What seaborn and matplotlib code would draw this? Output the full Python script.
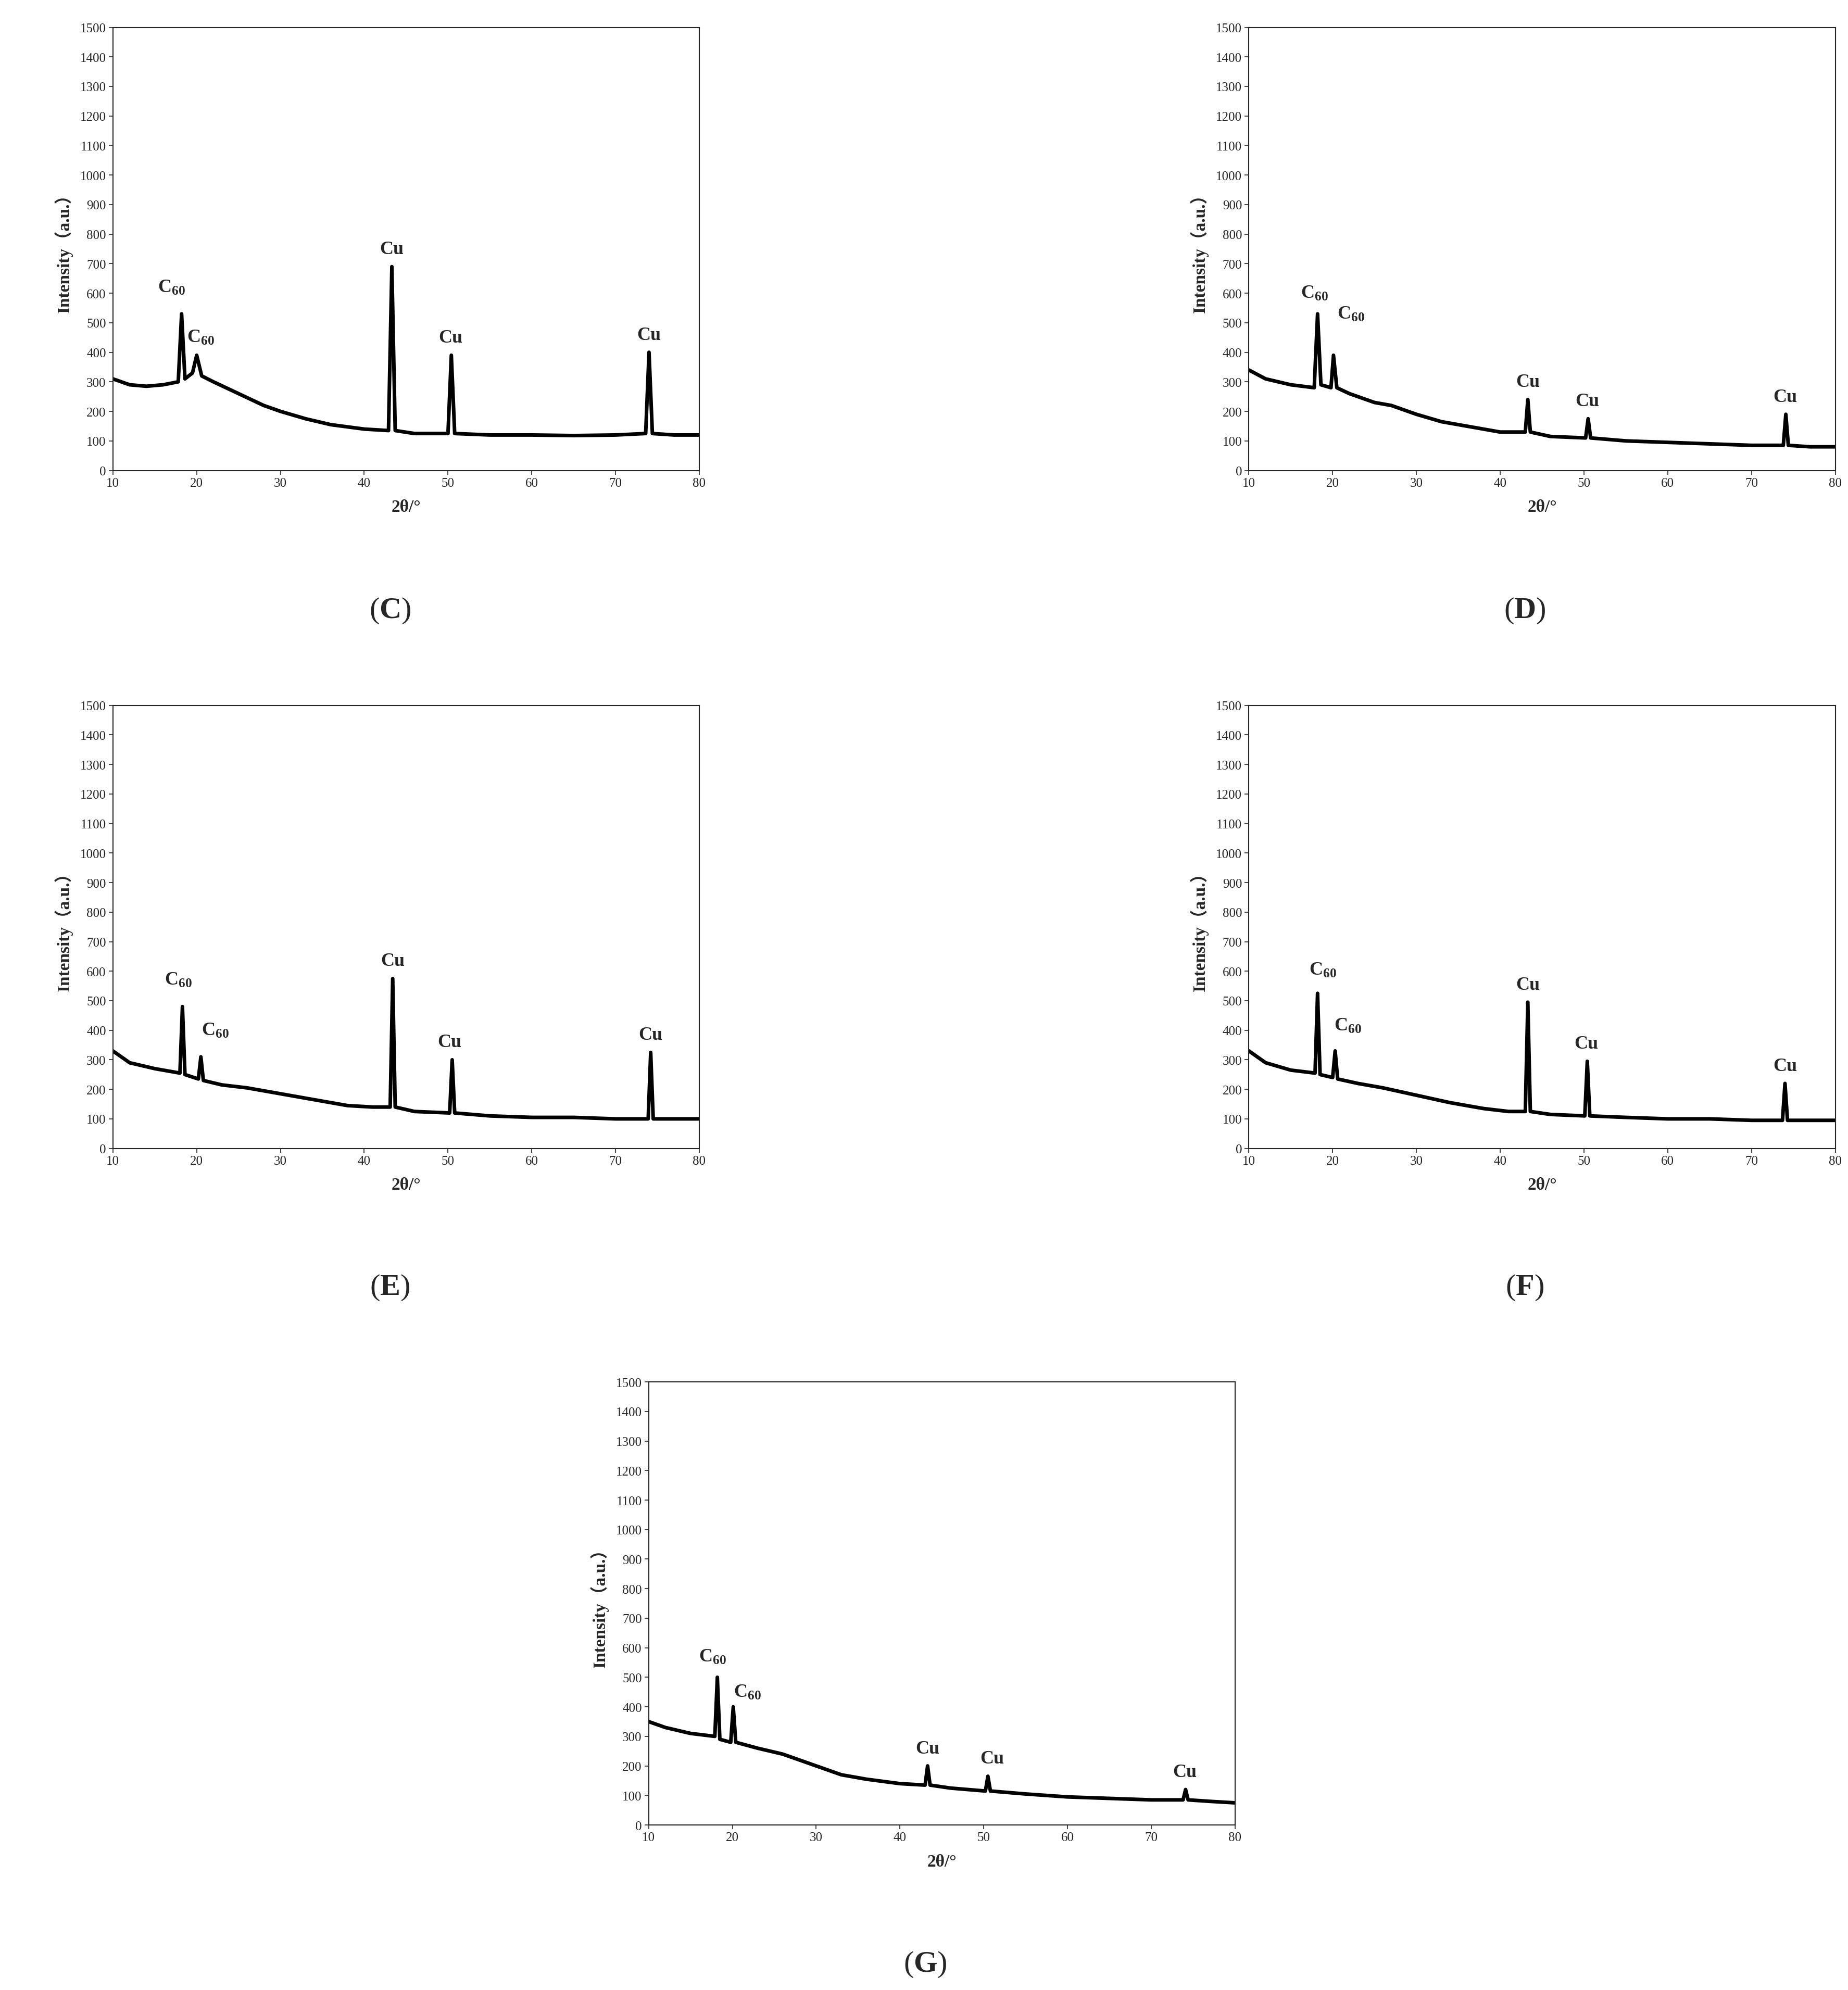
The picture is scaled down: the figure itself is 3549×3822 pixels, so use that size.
import matplotlib
matplotlib.use("Agg")
import matplotlib.pyplot as plt
import seaborn as sns

sns.set_style("ticks")
plt.rcParams["font.family"] = ["Liberation Serif", "DejaVu Serif"]
plt.rcParams["mathtext.fontset"] = "custom"
plt.rcParams["mathtext.rm"] = "Liberation Serif"
plt.rcParams["mathtext.bf"] = "Liberation Serif:bold"
plt.rcParams["mathtext.default"] = "regular"

# -----------------------------
# Spectra (2theta, intensity)
# -----------------------------
c_x = [10, 12, 14, 16, 17.8, 18.2, 18.6, 19.5, 20.0, 20.6, 22, 25, 28, 30, 33, 36, 40, 42.9, 43.3, 43.7, 46, 50.0, 50.4, 50.8, 55, 60, 65, 70, 73.6, 74.0, 74.4, 77, 80]
c_y = [310, 290, 285, 290, 300, 530, 310, 330, 390, 320, 300, 260, 220, 200, 175, 155, 140, 135, 690, 135, 125, 125, 390, 125, 120, 120, 118, 120, 125, 400, 125, 120, 120]

d_x = [10, 12, 15, 17.8, 18.2, 18.6, 19.8, 20.1, 20.5, 22, 25, 27, 30, 33, 36, 40, 43.0, 43.3, 43.6, 46, 50.2, 50.5, 50.8, 55, 60, 65, 70, 73.8, 74.1, 74.4, 77, 80]
d_y = [340, 310, 290, 280, 530, 290, 280, 390, 280, 260, 230, 220, 190, 165, 150, 130, 130, 240, 130, 115, 110, 175, 110, 100, 95, 90, 85, 85, 190, 85, 80, 80]

e_x = [10, 12, 15, 18.0, 18.3, 18.6, 20.2, 20.5, 20.8, 23, 26, 30, 34, 38, 41, 43.1, 43.4, 43.7, 46, 50.2, 50.5, 50.8, 55, 60, 65, 70, 73.9, 74.2, 74.5, 77, 80]
e_y = [330, 290, 270, 255, 480, 250, 235, 310, 230, 215, 205, 185, 165, 145, 140, 140, 575, 140, 125, 120, 300, 120, 110, 105, 105, 100, 100, 325, 100, 100, 100]

f_x = [10, 12, 15, 17.9, 18.2, 18.5, 20.0, 20.3, 20.6, 23, 26, 30, 34, 38, 41, 43.0, 43.3, 43.6, 46, 50.1, 50.4, 50.7, 55, 60, 65, 70, 73.7, 74.0, 74.3, 77, 80]
f_y = [330, 290, 265, 255, 525, 250, 240, 330, 235, 220, 205, 180, 155, 135, 125, 125, 495, 125, 115, 110, 295, 110, 105, 100, 100, 95, 95, 220, 95, 95, 95]

g_x = [10, 12, 15, 17.9, 18.2, 18.5, 19.8, 20.1, 20.4, 23, 26, 30, 33, 36, 40, 43.0, 43.3, 43.6, 46, 50.2, 50.5, 50.8, 55, 60, 65, 70, 73.8, 74.1, 74.4, 77, 80]
g_y = [350, 330, 310, 300, 500, 290, 280, 400, 280, 260, 240, 200, 170, 155, 140, 135, 200, 135, 125, 115, 165, 115, 105, 95, 90, 85, 85, 120, 85, 80, 75]

# peak labels: (x, y, text)
c_labels = [(17.0, 590, "C$_{60}$"), (20.5, 420, "C$_{60}$"), (43.3, 720, "Cu"), (50.3, 420, "Cu"), (74.0, 430, "Cu")]
d_labels = [(17.8, 570, "C$_{60}$"), (22.2, 500, "C$_{60}$"), (43.3, 270, "Cu"), (50.4, 205, "Cu"), (74.0, 220, "Cu")]
e_labels = [(17.8, 540, "C$_{60}$"), (22.2, 370, "C$_{60}$"), (43.4, 605, "Cu"), (50.2, 330, "Cu"), (74.2, 355, "Cu")]
f_labels = [(18.8, 575, "C$_{60}$"), (21.8, 385, "C$_{60}$"), (43.3, 525, "Cu"), (50.3, 325, "Cu"), (74.0, 250, "Cu")]
g_labels = [(17.6, 540, "C$_{60}$"), (21.8, 420, "C$_{60}$"), (43.3, 230, "Cu"), (51.0, 195, "Cu"), (74.0, 150, "Cu")]

panels = [
    ("C", c_x, c_y, c_labels, [0.0611, 0.7634, 0.3173, 0.2226], (0.211, 0.693)),
    ("D", d_x, d_y, d_labels, [0.6758, 0.7634, 0.3173, 0.2226], (0.825, 0.693)),
    ("E", e_x, e_y, e_labels, [0.0611, 0.4228, 0.3173, 0.2226], (0.211, 0.353)),
    ("F", f_x, f_y, f_labels, [0.6758, 0.4228, 0.3173, 0.2226], (0.825, 0.353)),
    ("G", g_x, g_y, g_labels, [0.3510, 0.0829, 0.3173, 0.2226], (0.5007, 0.013)),
]

fig = plt.figure(figsize=(35.49, 38.23), dpi=100)

for name, xs, ys, labels, rect, lab_pos in panels:
    ax = fig.add_axes(rect)
    sns.lineplot(x=xs, y=ys, ax=ax, color="black", lw=5, sort=False)
    ax.set_xlim(10, 80)
    ax.set_ylim(0, 1500)
    ax.set_xticks(range(10, 81, 10))
    ax.set_yticks(range(0, 1501, 100))
    ax.tick_params(labelsize=18, length=6, width=1.2)
    for s in ax.spines.values():
        s.set_linewidth(1.5)
    ax.set_xlabel("2θ/°", fontsize=24, fontweight="bold", labelpad=14)
    ax.set_ylabel("Intensity（a.u.）", fontsize=24, fontweight="bold", labelpad=10,
                  family=["Liberation Serif", "Noto Sans CJK SC"])
    for lx, ly, txt in labels:
        ax.text(lx, ly, txt, ha="center", va="bottom", fontsize=26, fontweight="bold")
    fig.text(lab_pos[0], lab_pos[1], "(" + r"$\mathbf{" + name + "}$" + ")",
             ha="center", va="center", fontsize=42)

fig.savefig("out.png", dpi=100)
